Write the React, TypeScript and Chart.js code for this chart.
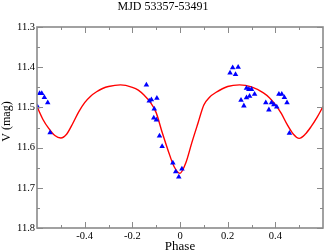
import React, { useEffect, useRef } from "react";
import { Chart, registerables } from "chart.js";

Chart.register(...registerables);

const TITLE = "MJD 53357-53491";
const X_LABEL = "Phase";
const Y_LABEL = "V (mag)";

// Observed points (phase, V mag)
const OBS_PHASE = [
  -0.598, -0.589, -0.58, -0.569, -0.555, -0.545,
  -0.141, -0.129, -0.12, -0.097, -0.108, -0.11, -0.099, -0.086, -0.075, -0.03, -0.018, 0.008, -0.005,
  0.221, 0.244, 0.21, 0.233, 0.279, 0.289, 0.3, 0.313, 0.292, 0.279, 0.256, 0.268,
  0.36, 0.384, 0.394, 0.406, 0.373, 0.415, 0.427, 0.438, 0.449, 0.459,
];
const OBS_MAG = [
  11.498, 11.465, 11.465, 11.475, 11.488, 11.563,
  11.444, 11.484, 11.481, 11.477, 11.504, 11.526, 11.531, 11.571, 11.597, 11.638, 11.66, 11.653, 11.673,
  11.401, 11.4, 11.414, 11.418, 11.452, 11.455, 11.455, 11.467, 11.472, 11.476, 11.482, 11.496,
  11.488, 11.488, 11.493, 11.499, 11.506, 11.467, 11.467, 11.475, 11.488, 11.564,
];

// Model light curve
const FIT_PHASE = [
  -0.6, -0.575, -0.55, -0.525, -0.5, -0.475, -0.45, -0.425, -0.4, -0.375, -0.35, -0.325, -0.3,
  -0.25, -0.2, -0.175, -0.15, -0.125, -0.1, -0.075, -0.05, -0.025, 0, 0.025, 0.05, 0.075, 0.1,
  0.125, 0.15, 0.2, 0.25, 0.3, 0.35, 0.375, 0.4, 0.425, 0.45, 0.475, 0.5, 0.525, 0.55, 0.575, 0.6,
];
const FIT_MAG = [
  11.498, 11.53, 11.553, 11.57, 11.576, 11.566, 11.54, 11.511, 11.488, 11.472, 11.461, 11.453, 11.448,
  11.444, 11.45, 11.457, 11.47, 11.487, 11.513, 11.562, 11.607, 11.647, 11.664, 11.637, 11.587, 11.54, 11.494,
  11.474, 11.463, 11.448, 11.444, 11.449, 11.464, 11.476, 11.493, 11.515, 11.543, 11.566, 11.577, 11.567, 11.548, 11.525, 11.498,
];

const X_MAJOR = [-0.4, -0.2, 0, 0.2, 0.4];
const X_MINOR = [-0.5, -0.3, -0.1, 0.1, 0.3, 0.5];
const Y_MAJOR = [11.3, 11.4, 11.5, 11.6, 11.7, 11.8];
const Y_MINOR = [11.35, 11.45, 11.55, 11.65, 11.75];

const SERIF = "'Liberation Serif', 'DejaVu Serif', serif";

const frameTicks = {
  id: "frameTicks",
  afterDatasetsDraw(chart: any) {
    const { ctx, chartArea: a, scales } = chart;
    const x = scales.x;
    const y = scales.y;
    ctx.save();
    ctx.strokeStyle = "#8a8a8a";
    ctx.lineWidth = 1;
    const seg = (x1: number, y1: number, x2: number, y2: number) => {
      ctx.beginPath();
      ctx.moveTo(x1, y1);
      ctx.lineTo(x2, y2);
      ctx.stroke();
    };
    const xt = (vals: number[], len: number) => {
      for (const v of vals) {
        const px = Math.round(x.getPixelForValue(v)) + 0.5;
        seg(px, a.bottom, px, a.bottom - len);
        seg(px, a.top, px, a.top + len);
      }
    };
    const yt = (vals: number[], len: number) => {
      for (const v of vals) {
        const py = Math.round(y.getPixelForValue(v)) + 0.5;
        seg(a.left, py, a.left + len, py);
        seg(a.right, py, a.right - len, py);
      }
    };
    xt(X_MAJOR, 6);
    xt(X_MINOR, 3);
    yt(Y_MAJOR, 6);
    yt(Y_MINOR, 3);
    ctx.lineWidth = 1.6;
    ctx.strokeRect(a.left, a.top, a.right - a.left, a.bottom - a.top);

    // y-axis title, placed slightly above the plot centre as in the reference
    ctx.fillStyle = "#000";
    ctx.font = `12px ${SERIF}`;
    ctx.textAlign = "center";
    ctx.textBaseline = "middle";
    ctx.translate(7, (a.top + a.bottom) / 2 - 6);
    ctx.rotate(-Math.PI / 2);
    ctx.fillText(Y_LABEL, 0, 0);
    ctx.restore();
  },
};

export default function App() {
  const ref = useRef<HTMLCanvasElement | null>(null);
  useEffect(() => {
    if (!ref.current) return;
    const chart = new Chart(ref.current, {
      type: "scatter",
      data: {
        datasets: [
          {
            label: "obs",
            data: OBS_PHASE.map((p, i) => ({ x: p, y: OBS_MAG[i] })),
            pointStyle: "triangle",
            pointRadius: 3.2,
            backgroundColor: "#0000ff",
            borderColor: "#0000ff",
            borderWidth: 0,
            showLine: false,
          },
          {
            label: "fit",
            data: FIT_PHASE.map((p, i) => ({ x: p, y: FIT_MAG[i] })),
            showLine: true,
            pointRadius: 0,
            borderColor: "#ff0000",
            borderWidth: 1.4,
            cubicInterpolationMode: "monotone",
            fill: false,
          },
        ],
      },
      options: {
        responsive: false,
        animation: false,
        devicePixelRatio: 1,
        layout: { padding: { left: 0, right: 1, top: 0, bottom: 0 } },
        plugins: {
          legend: { display: false },
          tooltip: { enabled: false },
          title: {
            display: true,
            text: TITLE,
            color: "#000",
            font: { family: SERIF, size: 12, weight: "normal" },
            padding: { top: 0, bottom: 12.6 },
          },
        },
        scales: {
          x: {
            type: "linear",
            min: -0.6,
            max: 0.6,
            grid: { display: false, drawTicks: false },
            border: { display: false },
            afterBuildTicks: (s: any) => {
              s.ticks = X_MAJOR.map((v) => ({ value: v }));
            },
            afterFit: (s: any) => {
              s.height = 24;
            },
            ticks: {
              color: "#000",
              padding: 2,
              maxRotation: 0,
              font: { family: SERIF, size: 10.5 },
              callback: (v: any) => String(+Number(v).toFixed(1)),
            },
            title: {
              display: true,
              text: X_LABEL,
              color: "#000",
              font: { family: SERIF, size: 13, lineHeight: 0.8 },
              padding: 0,
            },
          },
          y: {
            type: "linear",
            reverse: true,
            min: 11.3,
            max: 11.8,
            grid: { display: false, drawTicks: false },
            border: { display: false },
            afterBuildTicks: (s: any) => {
              s.ticks = Y_MAJOR.map((v) => ({ value: v }));
            },
            afterFit: (s: any) => {
              s.width = 37;
            },
            ticks: {
              color: "#000",
              padding: 2,
              font: { family: SERIF, size: 10.5 },
              callback: (v: any) => Number(v).toFixed(1),
            },
            title: { display: false },
          },
        },
      },
      plugins: [frameTicks],
    } as any);
    return () => chart.destroy();
  }, []);
  return (
    <div style={{ position: "absolute", left: 0, top: 0, width: 327, height: 252 }}>
      <canvas ref={ref} width={327} height={252} />
    </div>
  );
}
